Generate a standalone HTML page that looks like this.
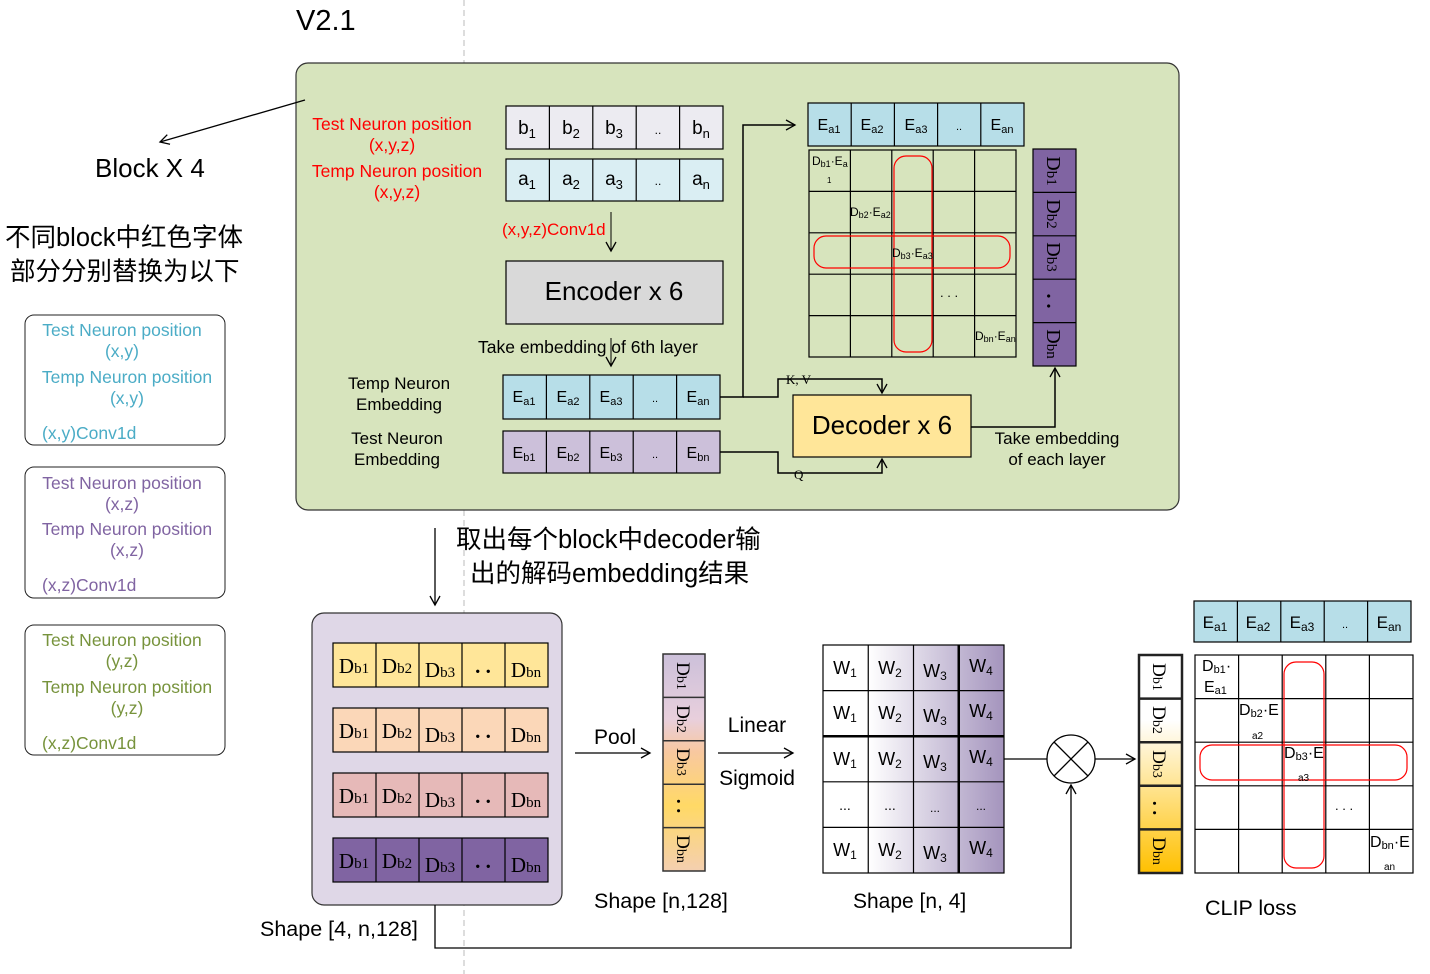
<!DOCTYPE html>
<html><head><meta charset="utf-8"><style>
html,body{margin:0;padding:0;background:#fff}
svg{display:block;font-family:"Liberation Sans","Noto Sans CJK SC",sans-serif}
text{fill:#000}
.s,.s text{font-family:"Liberation Serif",serif}
</style></head><body>
<svg width="1430" height="974" viewBox="0 0 1430 974" xmlns="http://www.w3.org/2000/svg">
<defs>
<marker id="ar" markerWidth="12" markerHeight="12" refX="10" refY="6" orient="auto" markerUnits="userSpaceOnUse"><path d="M1,1 L10,6 L1,11" fill="none" stroke="#000" stroke-width="1.3"/></marker>
<linearGradient id="gw" x1="0" x2="1" y1="0" y2="0"><stop offset="0" stop-color="#fff"/><stop offset="0.25" stop-color="#fff"/><stop offset="1" stop-color="#a494bd"/></linearGradient>
<linearGradient id="gd" x1="0" x2="0" y1="0" y2="1"><stop offset="0" stop-color="#fff"/><stop offset="0.3" stop-color="#fff"/><stop offset="1" stop-color="#ffc000"/></linearGradient>
<linearGradient id="gp" x1="0" x2="0" y1="0" y2="1"><stop offset="0" stop-color="#ccc0da"/><stop offset="0.3" stop-color="#e8cfdc"/><stop offset="0.45" stop-color="#f8c8a0"/><stop offset="0.7" stop-color="#ffd966"/><stop offset="1" stop-color="#f4cfb0"/></linearGradient>
</defs>

<line x1="464" y1="0" x2="464" y2="974" stroke="#bbb" stroke-dasharray="6,4"/>
<text x="296" y="30" font-size="29">V2.1</text>

<rect x="296" y="63" width="883" height="447" rx="12" fill="#d7e4bd" stroke="#333" stroke-width="1.2"/>
<line x1="305" y1="100" x2="160" y2="142" stroke="#000" stroke-width="1.3" marker-end="url(#ar)"/>
<text x="95" y="177" font-size="26">Block X 4</text>
<text x="5" y="246" font-size="25.5">不同block中红色字体</text>
<text x="10" y="280" font-size="25.5">部分分别替换为以下</text>

<g font-size="17.5" text-anchor="middle">
<rect x="25" y="315" width="200" height="130" rx="9" fill="#fff" stroke="#222"/>
<text x="122" y="336" style="fill:#4bacc6">Test Neuron position</text><text x="122" y="357" style="fill:#4bacc6">(x,y)</text><text x="127" y="383" style="fill:#4bacc6">Temp Neuron position</text><text x="127" y="404" style="fill:#4bacc6">(x,y)</text><text x="42" y="439" text-anchor="start" style="fill:#4bacc6">(x,y)Conv1d</text>
<rect x="25" y="467" width="200" height="131" rx="9" fill="#fff" stroke="#222"/>
<text x="122" y="489" style="fill:#8064a2">Test Neuron position</text><text x="122" y="510" style="fill:#8064a2">(x,z)</text><text x="127" y="535" style="fill:#8064a2">Temp Neuron position</text><text x="127" y="556" style="fill:#8064a2">(x,z)</text><text x="42" y="591" text-anchor="start" style="fill:#8064a2">(x,z)Conv1d</text>
<rect x="25" y="625" width="200" height="130" rx="9" fill="#fff" stroke="#222"/>
<text x="122" y="646" style="fill:#77933c">Test Neuron position</text><text x="122" y="667" style="fill:#77933c">(y,z)</text><text x="127" y="693" style="fill:#77933c">Temp Neuron position</text><text x="127" y="714" style="fill:#77933c">(y,z)</text><text x="42" y="749" text-anchor="start" style="fill:#77933c">(x,z)Conv1d</text>

<text x="392" y="130" style="fill:#f00">Test Neuron position</text><text x="392" y="151" style="fill:#f00">(x,y,z)</text>
<text x="397" y="177" style="fill:#f00">Temp Neuron position</text><text x="397" y="198" style="fill:#f00">(x,y,z)</text>
</g>

<g stroke="#000" stroke-width="1.2">
<rect x="506" y="106" width="217" height="43" fill="#ecebf1"/>
<line x1="549.4" y1="106" x2="549.4" y2="149"/><line x1="592.8" y1="106" x2="592.8" y2="149"/><line x1="636.2" y1="106" x2="636.2" y2="149"/><line x1="679.6" y1="106" x2="679.6" y2="149"/>
<rect x="506" y="159" width="217" height="42" fill="#daeef3"/>
<line x1="549.4" y1="159" x2="549.4" y2="201"/><line x1="592.8" y1="159" x2="592.8" y2="201"/><line x1="636.2" y1="159" x2="636.2" y2="201"/><line x1="679.6" y1="159" x2="679.6" y2="201"/>
</g>
<g font-size="19" text-anchor="middle">
<text x="527" y="134">b<tspan font-size="13" dy="4">1</tspan></text><text x="571" y="134">b<tspan font-size="13" dy="4">2</tspan></text><text x="614" y="134">b<tspan font-size="13" dy="4">3</tspan></text><text x="658" y="134" font-size="12">..</text><text x="701" y="134">b<tspan font-size="13" dy="4">n</tspan></text>
<text x="527" y="185">a<tspan font-size="13" dy="4">1</tspan></text><text x="571" y="185">a<tspan font-size="13" dy="4">2</tspan></text><text x="614" y="185">a<tspan font-size="13" dy="4">3</tspan></text><text x="658" y="185" font-size="12">..</text><text x="701" y="185">a<tspan font-size="13" dy="4">n</tspan></text>
</g>
<text x="502" y="235" font-size="17" style="fill:#f00">(x,y,z)Conv1d</text>
<line x1="611" y1="212" x2="611" y2="251" stroke="#000" marker-end="url(#ar)"/>
<rect x="506" y="261" width="217" height="63" fill="#d9d9d9" stroke="#000" stroke-width="1.2"/>
<text x="614" y="300" font-size="26" text-anchor="middle">Encoder x 6</text>
<text x="478" y="353" font-size="17.5">Take embedding of  6th layer</text>
<line x1="611" y1="338" x2="611" y2="366" stroke="#000" marker-end="url(#ar)"/>

<g font-size="17" text-anchor="middle">
<text x="399" y="389">Temp Neuron</text><text x="399" y="410">Embedding</text>
<text x="397" y="444">Test Neuron</text><text x="397" y="465">Embedding</text>
</g>

<g stroke="#000" stroke-width="1.2">
<rect x="503" y="375" width="217" height="44" fill="#b7dee8"/>
<line x1="546.4" y1="375" x2="546.4" y2="419"/><line x1="589.8" y1="375" x2="589.8" y2="419"/><line x1="633.2" y1="375" x2="633.2" y2="419"/><line x1="676.6" y1="375" x2="676.6" y2="419"/>
<rect x="503" y="431" width="217" height="42" fill="#ccc0da"/>
<line x1="546.4" y1="431" x2="546.4" y2="473"/><line x1="589.8" y1="431" x2="589.8" y2="473"/><line x1="633.2" y1="431" x2="633.2" y2="473"/><line x1="676.6" y1="431" x2="676.6" y2="473"/>
</g>
<g font-size="16" text-anchor="middle">
<text x="524" y="402">E<tspan font-size="11" dy="3">a1</tspan></text><text x="568" y="402">E<tspan font-size="11" dy="3">a2</tspan></text><text x="611" y="402">E<tspan font-size="11" dy="3">a3</tspan></text><text x="655" y="402" font-size="11">..</text><text x="698" y="402">E<tspan font-size="11" dy="3">an</tspan></text>
<text x="524" y="458">E<tspan font-size="11" dy="3">b1</tspan></text><text x="568" y="458">E<tspan font-size="11" dy="3">b2</tspan></text><text x="611" y="458">E<tspan font-size="11" dy="3">b3</tspan></text><text x="655" y="458" font-size="11">..</text><text x="698" y="458">E<tspan font-size="11" dy="3">bn</tspan></text>
</g>

<g stroke="#000" stroke-width="1.5" fill="none">
<polyline points="720,397 743,397 743,125 795,125" marker-end="url(#ar)"/>
<polyline points="743,397 778,397 778,379 882,379 882,393" marker-end="url(#ar)"/>
<polyline points="720,452 778,452 778,473 882,473 882,459" marker-end="url(#ar)"/>
<polyline points="971,427 1055,427 1055,368" marker-end="url(#ar)"/>
</g>
<text x="786" y="384" font-size="13" class="s">K, V</text>
<text x="794" y="479" font-size="13" class="s">Q</text>

<rect x="793" y="395" width="178" height="62" fill="#ffe699" stroke="#000" stroke-width="1.2"/>
<text x="882" y="434" font-size="26" text-anchor="middle">Decoder x 6</text>
<text x="1057" y="444" font-size="17" text-anchor="middle">Take embedding</text>
<text x="1057" y="465" font-size="17" text-anchor="middle">of each layer</text>

<g stroke="#000" stroke-width="1.2">
<rect x="808" y="103" width="216" height="43" fill="#b7dee8"/>
<line x1="851.2" y1="103" x2="851.2" y2="146"/><line x1="894.4" y1="103" x2="894.4" y2="146"/><line x1="937.6" y1="103" x2="937.6" y2="146"/><line x1="980.8" y1="103" x2="980.8" y2="146"/>
<rect x="809" y="150" width="207" height="207" fill="none"/>
<line x1="850.4" y1="150" x2="850.4" y2="357"/><line x1="891.8" y1="150" x2="891.8" y2="357"/><line x1="933.2" y1="150" x2="933.2" y2="357"/><line x1="974.6" y1="150" x2="974.6" y2="357"/>
<line x1="809" y1="191.4" x2="1016" y2="191.4"/><line x1="809" y1="232.8" x2="1016" y2="232.8"/><line x1="809" y1="274.2" x2="1016" y2="274.2"/><line x1="809" y1="315.6" x2="1016" y2="315.6"/>
</g>
<rect x="894" y="156" width="38" height="196" rx="12" fill="none" stroke="#f00" stroke-width="1.2"/>
<rect x="814" y="236" width="196" height="32" rx="12" fill="none" stroke="#f00" stroke-width="1.2"/>
<g font-size="16" text-anchor="middle">
<text x="829" y="130">E<tspan font-size="11" dy="3">a1</tspan></text><text x="872" y="130">E<tspan font-size="11" dy="3">a2</tspan></text><text x="916" y="130">E<tspan font-size="11" dy="3">a3</tspan></text><text x="959" y="130" font-size="11">..</text><text x="1002" y="130">E<tspan font-size="11" dy="3">an</tspan></text>
</g>
<g font-size="12">
<text x="812" y="165">D<tspan font-size="9" dy="2">b1</tspan><tspan dy="-2">·E</tspan><tspan font-size="9" dy="2">a</tspan></text>
<text x="827" y="183" font-size="8">1</text>
<text x="850" y="216">D<tspan font-size="9" dy="2">b2</tspan><tspan dy="-2">·E</tspan><tspan font-size="9" dy="2">a2</tspan></text>
<text x="892" y="257">D<tspan font-size="9" dy="2">b3</tspan><tspan dy="-2">·E</tspan><tspan font-size="9" dy="2">a3</tspan></text>
<text x="940" y="297" font-size="13">. . .</text>
<text x="975" y="340">D<tspan font-size="9" dy="2">bn</tspan><tspan dy="-2">·E</tspan><tspan font-size="9" dy="2">an</tspan></text>
</g>

<g stroke="#000" stroke-width="1.2">
<rect x="1033" y="149" width="43" height="217" fill="#8064a2"/>
<line x1="1033" y1="192.4" x2="1076" y2="192.4"/><line x1="1033" y1="235.8" x2="1076" y2="235.8"/><line x1="1033" y1="279.2" x2="1076" y2="279.2"/><line x1="1033" y1="322.6" x2="1076" y2="322.6"/>
</g>
<g font-size="20" text-anchor="middle" class="s">
<text transform="translate(1047,171) rotate(90)">D<tspan font-size="15">b1</tspan></text>
<text transform="translate(1047,214) rotate(90)">D<tspan font-size="15">b2</tspan></text>
<text transform="translate(1047,257) rotate(90)">D<tspan font-size="15">b3</tspan></text>
<text transform="translate(1047,301) rotate(90)" font-weight="bold">. .</text>
<text transform="translate(1047,344) rotate(90)">D<tspan font-size="15">bn</tspan></text>
</g>

<line x1="435" y1="528" x2="435" y2="605" stroke="#000" stroke-width="1.3" marker-end="url(#ar)"/>
<text x="456" y="548" font-size="25.5">取出每个block中decoder输</text>
<text x="470" y="582" font-size="25.5">出的解码embedding结果</text>

<rect x="312" y="613" width="250" height="292" rx="12" fill="#dfd7e7" stroke="#333" stroke-width="1.2"/>
<g stroke="#000" stroke-width="1.2">
<rect x="333" y="643" width="215" height="44" fill="#ffe699"/>
<rect x="333" y="708" width="215" height="44" fill="#fbd7b8"/>
<rect x="333" y="773" width="215" height="44" fill="#e6b9b8"/>
<rect x="333" y="838" width="215" height="44" fill="#8064a2"/>
<path d="M376,643V687M419,643V687M462,643V687M505,643V687M376,708V752M419,708V752M462,708V752M505,708V752M376,773V817M419,773V817M462,773V817M505,773V817M376,838V882M419,838V882M462,838V882M505,838V882"/>
</g>
<g font-size="21" text-anchor="middle" class="s">
<text x="354" y="673">D<tspan font-size="15">b1</tspan></text><text x="397" y="673">D<tspan font-size="15">b2</tspan></text><text x="440" y="677">D<tspan font-size="15">b3</tspan></text><text x="483" y="673" font-weight="bold">. .</text><text x="526" y="677">D<tspan font-size="15">bn</tspan></text>
<text x="354" y="738">D<tspan font-size="15">b1</tspan></text><text x="397" y="738">D<tspan font-size="15">b2</tspan></text><text x="440" y="742">D<tspan font-size="15">b3</tspan></text><text x="483" y="738" font-weight="bold">. .</text><text x="526" y="742">D<tspan font-size="15">bn</tspan></text>
<text x="354" y="803">D<tspan font-size="15">b1</tspan></text><text x="397" y="803">D<tspan font-size="15">b2</tspan></text><text x="440" y="807">D<tspan font-size="15">b3</tspan></text><text x="483" y="803" font-weight="bold">. .</text><text x="526" y="807">D<tspan font-size="15">bn</tspan></text>
<text x="354" y="868">D<tspan font-size="15">b1</tspan></text><text x="397" y="868">D<tspan font-size="15">b2</tspan></text><text x="440" y="872">D<tspan font-size="15">b3</tspan></text><text x="483" y="868" font-weight="bold">. .</text><text x="526" y="872">D<tspan font-size="15">bn</tspan></text>
</g>
<text x="260" y="936" font-size="21.5">Shape [4, n,128]</text>

<line x1="575" y1="753" x2="650" y2="753" stroke="#000" stroke-width="1.3" marker-end="url(#ar)"/>
<text x="615" y="744" font-size="21" text-anchor="middle">Pool</text>

<g stroke="#333" stroke-width="1.5">
<rect x="663" y="654" width="42" height="217" fill="url(#gp)"/>
<path d="M663,697.4H705M663,740.8H705M663,784.2H705M663,827.6H705"/>
</g>
<g font-size="19" text-anchor="middle" class="s">
<text transform="translate(677,676) rotate(90)">D<tspan font-size="14">b1</tspan></text>
<text transform="translate(677,719) rotate(90)">D<tspan font-size="14">b2</tspan></text>
<text transform="translate(677,762) rotate(90)">D<tspan font-size="14">b3</tspan></text>
<text transform="translate(677,806) rotate(90)" font-weight="bold">. .</text>
<text transform="translate(677,849) rotate(90)">D<tspan font-size="14">bn</tspan></text>
</g>
<text x="594" y="908" font-size="21.5">Shape [n,128]</text>

<text x="757" y="732" font-size="21" text-anchor="middle">Linear</text>
<line x1="718" y1="753" x2="793" y2="753" stroke="#000" stroke-width="1.3" marker-end="url(#ar)"/>
<text x="757" y="785" font-size="21" text-anchor="middle">Sigmoid</text>

<g stroke="#000" stroke-width="1.2">
<rect x="823" y="645" width="181" height="228" fill="url(#gw)"/>
<path d="M868.25,645V873M913.5,645V873M823,690.6H1004M823,781.8H1004M823,827.4H1004"/>
<path d="M958.75,645V873M823,736.2H1004" stroke-width="2.5"/>
</g>
<g font-size="18" text-anchor="middle">
<text x="845" y="674">W<tspan font-size="12" dy="3">1</tspan></text><text x="890" y="674">W<tspan font-size="12" dy="3">2</tspan></text><text x="935" y="677">W<tspan font-size="12" dy="3">3</tspan></text><text x="981" y="672">W<tspan font-size="12" dy="3">4</tspan></text>
<text x="845" y="719">W<tspan font-size="12" dy="3">1</tspan></text><text x="890" y="719">W<tspan font-size="12" dy="3">2</tspan></text><text x="935" y="722">W<tspan font-size="12" dy="3">3</tspan></text><text x="981" y="717">W<tspan font-size="12" dy="3">4</tspan></text>
<text x="845" y="765">W<tspan font-size="12" dy="3">1</tspan></text><text x="890" y="765">W<tspan font-size="12" dy="3">2</tspan></text><text x="935" y="768">W<tspan font-size="12" dy="3">3</tspan></text><text x="981" y="763">W<tspan font-size="12" dy="3">4</tspan></text>
<text x="845" y="810" font-size="14">...</text><text x="890" y="810" font-size="14">...</text><text x="935" y="812" font-size="12">...</text><text x="981" y="810" font-size="12">...</text>
<text x="845" y="856">W<tspan font-size="12" dy="3">1</tspan></text><text x="890" y="856">W<tspan font-size="12" dy="3">2</tspan></text><text x="935" y="859">W<tspan font-size="12" dy="3">3</tspan></text><text x="981" y="854">W<tspan font-size="12" dy="3">4</tspan></text>
</g>
<text x="853" y="908" font-size="21">Shape [n, 4]</text>

<g stroke="#000" stroke-width="1.3" fill="none">
<line x1="1004" y1="759" x2="1047" y2="759"/>
<circle cx="1071" cy="759" r="24" fill="#fff"/>
<line x1="1054" y1="742" x2="1088" y2="776"/><line x1="1088" y1="742" x2="1054" y2="776"/>
<line x1="1095" y1="759" x2="1135" y2="759" marker-end="url(#ar)"/>
<polyline points="435,905 435,948 1071,948 1071,785" marker-end="url(#ar)"/>
</g>

<g stroke="#222" stroke-width="2.5">
<rect x="1139" y="655" width="43" height="218" fill="url(#gd)"/>
<path d="M1139,698.6H1182M1139,742.2H1182M1139,785.8H1182M1139,829.4H1182"/>
</g>
<g font-size="19" text-anchor="middle" class="s">
<text transform="translate(1153,677) rotate(90)">D<tspan font-size="14">b1</tspan></text>
<text transform="translate(1153,720) rotate(90)">D<tspan font-size="14">b2</tspan></text>
<text transform="translate(1153,764) rotate(90)">D<tspan font-size="14">b3</tspan></text>
<text transform="translate(1153,808) rotate(90)" font-weight="bold">. .</text>
<text transform="translate(1153,851) rotate(90)">D<tspan font-size="14">bn</tspan></text>
</g>

<g stroke="#000" stroke-width="1.2">
<rect x="1194" y="601" width="217" height="41" fill="#b7dee8"/>
<path d="M1237.4,601V642M1280.8,601V642M1324.2,601V642M1367.6,601V642"/>
<rect x="1195" y="655" width="218" height="218" fill="#fff"/>
<path d="M1238.6,655V873M1282.2,655V873M1325.8,655V873M1369.4,655V873M1195,698.6H1413M1195,742.2H1413M1195,785.8H1413M1195,829.4H1413"/>
</g>
<rect x="1284" y="662" width="40" height="206" rx="12" fill="none" stroke="#f00" stroke-width="1.2"/>
<rect x="1200" y="745" width="207" height="35" rx="12" fill="none" stroke="#f00" stroke-width="1.2"/>
<g font-size="17" text-anchor="middle">
<text x="1215" y="628">E<tspan font-size="12" dy="3">a1</tspan></text><text x="1258" y="628">E<tspan font-size="12" dy="3">a2</tspan></text><text x="1302" y="628">E<tspan font-size="12" dy="3">a3</tspan></text><text x="1345" y="628" font-size="11">..</text><text x="1389" y="628">E<tspan font-size="12" dy="3">an</tspan></text>
</g>
<g font-size="16">
<text x="1202" y="671">D<tspan font-size="11" dy="2">b1</tspan><tspan dy="-2">·</tspan></text>
<text x="1204" y="692">E<tspan font-size="11" dy="2">a1</tspan></text>
<text x="1239" y="715">D<tspan font-size="11" dy="2">b2</tspan><tspan dy="-2">·E</tspan></text>
<text x="1252" y="739" font-size="10">a2</text>
<text x="1284" y="758">D<tspan font-size="11" dy="2">b3</tspan><tspan dy="-2">·E</tspan></text>
<text x="1298" y="781" font-size="10">a3</text>
<text x="1335" y="810" font-size="13">. . .</text>
<text x="1370" y="847">D<tspan font-size="11" dy="2">bn</tspan><tspan dy="-2">·E</tspan></text>
<text x="1384" y="870" font-size="10">an</text>
</g>
<text x="1205" y="915" font-size="21.5">CLIP loss</text>
</svg>
</body></html>
